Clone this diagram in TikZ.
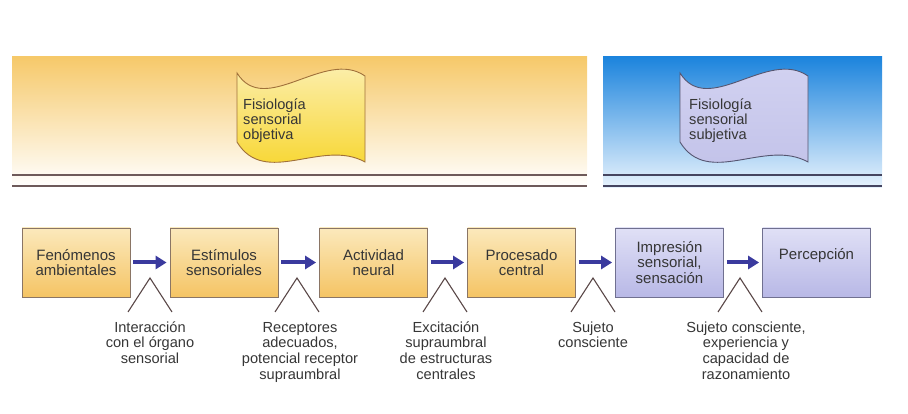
\documentclass[tikz,border=0pt]{standalone}
\usepackage{fontspec}
\setmainfont{Liberation Sans}
\usetikzlibrary{arrows.meta,calc}
\definecolor{bandYtop}{HTML}{F6C96A}
\definecolor{bandYmid}{HTML}{F9DE9C}
\definecolor{bandBtop}{HTML}{1C84DD}
\definecolor{bandBmid}{HTML}{5AACF0}
\definecolor{bandBbot}{HTML}{E8F3FD}
\definecolor{flagYtop}{HTML}{FCF2C0}
\definecolor{flagYbot}{HTML}{F7D21A}
\definecolor{flagYline}{HTML}{A0703A}
\definecolor{flagPtop}{HTML}{D4D4F2}
\definecolor{flagPbot}{HTML}{C0C0E8}
\definecolor{flagPline}{HTML}{555570}
\definecolor{boxYtop}{HTML}{FBE9BC}
\definecolor{boxYbot}{HTML}{F5C464}
\definecolor{boxYline}{HTML}{8A7565}
\definecolor{boxPtop}{HTML}{E0E0F6}
\definecolor{boxPbot}{HTML}{B8B8E6}
\definecolor{boxPline}{HTML}{707090}
\definecolor{txt}{HTML}{363636}
\definecolor{triline}{HTML}{5A4848}
\definecolor{arrcol}{HTML}{3A3A9E}
\definecolor{lineL}{HTML}{6E5A5A}
\definecolor{lineR}{HTML}{454560}
\begin{document}
\begin{tikzpicture}[x=1pt,y=-1pt,
  boxbase/.style={draw, line width=0.8pt, minimum width=108pt, minimum height=69pt,
    inner sep=0pt, align=center, text=txt, font=\fontsize{15pt}{15.5pt}\selectfont},
  boxY/.style={boxbase, draw=boxYline, top color=boxYtop, bottom color=boxYbot},
  boxP/.style={boxbase, draw=boxPline, top color=boxPtop, bottom color=boxPbot},
  arr/.style={draw=arrcol, line width=4pt, -{Triangle[length=11pt,width=13pt]},
    shorten <=3pt, shorten >=3pt},
  tri/.style={draw=triline, line width=1.1pt},
  lbl/.style={align=center, text=txt, inner sep=0pt, font=\fontsize{14.6pt}{15.8pt}\selectfont},
  ftxt/.style={align=left, text=txt, inner sep=0pt, font=\fontsize{14.6pt}{15pt}\selectfont},
  flagY/.style={draw=flagYline, line width=0.9pt, top color=flagYtop, bottom color=flagYbot},
  flagP/.style={draw=flagPline, line width=0.9pt, top color=flagPtop, bottom color=flagPbot}
]
\useasboundingbox (0,0) rectangle (908,414);
% bands
\shade[top color=bandYtop, middle color=bandYmid, bottom color=white] (12,57) rectangle (587,187);
\shade[top color=bandBtop, middle color=bandBmid, bottom color=bandBbot] (603,57) rectangle (882,188);
% horizontal rules
\draw[lineL, line width=1.4pt] (12,175) -- (587,175);
\draw[lineL, line width=1.4pt] (12,186) -- (587,186);
\draw[lineR, line width=1.4pt] (603,175) -- (882,175);
\draw[lineR, line width=1.4pt] (603,186) -- (882,186);
% flags
\path[flagY] (237,73) .. controls (265,118) and (325,48) .. (365,76)
   -- (365,162) .. controls (322,138) and (265,188) .. (237,142) -- cycle;
\path[flagP] (680,73) .. controls (708,118) and (768,48) .. (808,76)
   -- (808,162) .. controls (765,138) and (708,188) .. (680,142) -- cycle;
\node[ftxt, anchor=base west] (f1) at (243,140) {Fisiología\\sensorial\\objetiva};
\node[ftxt, anchor=base west] (f2) at (689,140) {Fisiología\\sensorial\\subjetiva};
% boxes
\node[boxY] (b1) at (76,262.5) {Fenómenos\\ambientales};
\node[boxY] (b2) at (224,262.5) {Estímulos\\sensoriales};
\node[boxY] (b3) at (373.5,262.5) {Actividad\\neural};
\node[boxY] (b4) at (521.5,262.5) {Procesado\\central};
\node[boxP] (b5) at (669.5,262.5) {Impresión\\sensorial,\\sensación};
\node[boxP, text depth=17pt] (b6) at (816.5,262.5) {Percepción};
% arrows
\draw[arr] (b1) -- (b2);
\draw[arr] (b2) -- (b3);
\draw[arr] (b3) -- (b4);
\draw[arr] (b4) -- (b5);
\draw[arr] (b5) -- (b6);
% triangles
\coordinate (t1) at (150,278);
\coordinate (t2) at (297,278);
\coordinate (t3) at (445,278);
\coordinate (t4) at (593,278);
\coordinate (t5) at (740,278);
\foreach \t in {t1,t2,t3,t4,t5}{
  \draw[tri] ($(\t)+(-22,34)$) -- (\t) -- ($(\t)+(22,34)$);
}
% labels
\node[lbl, anchor=base] (l1) at (150,363.6) {Interacción\\con el órgano\\sensorial};
\node[lbl, anchor=base] (l2) at (300,379.4) {Receptores\\adecuados,\\potencial receptor\\supraumbral};
\node[lbl, anchor=base] (l3) at (446,379.4) {Excitación\\supraumbral\\de estructuras\\centrales};
\node[lbl, anchor=base] (l4) at (593,347.8) {Sujeto\\consciente};
\node[lbl, anchor=base] (l5) at (746,379.4) {Sujeto consciente,\\experiencia y\\capacidad de\\razonamiento};
\end{tikzpicture}
\end{document}
